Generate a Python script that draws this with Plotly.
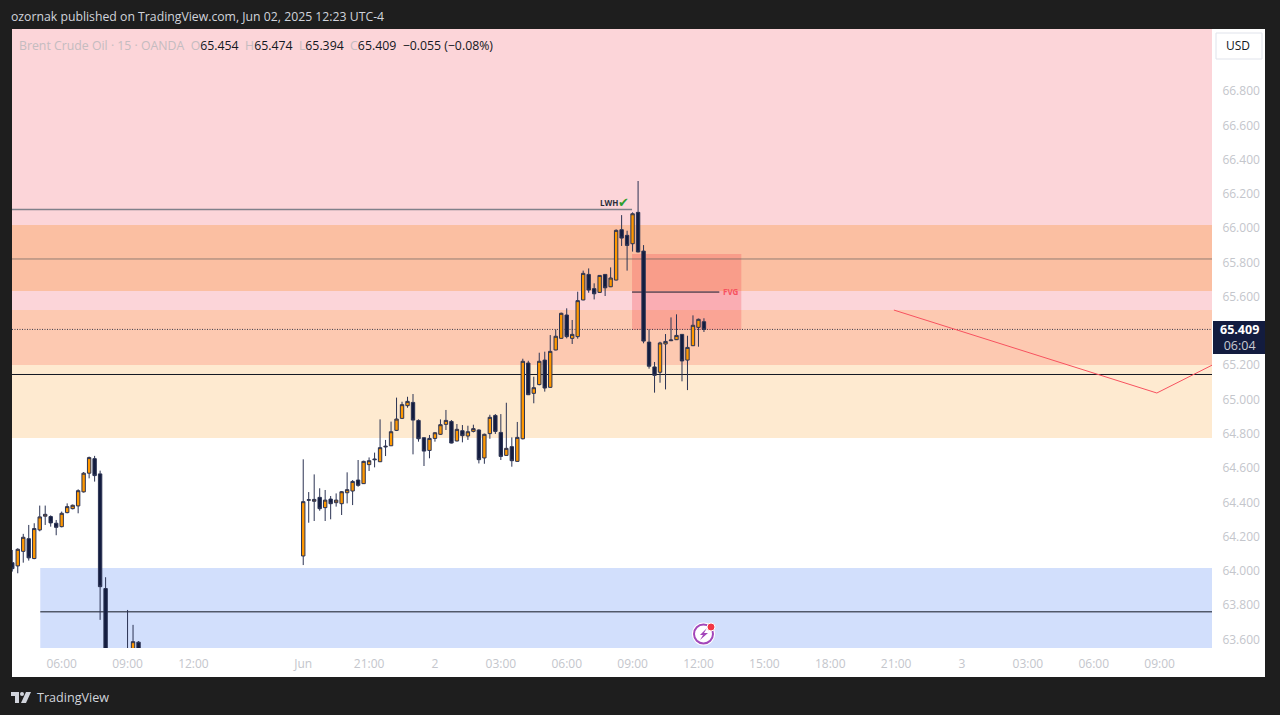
import plotly.graph_objects as go

# 15 min candles, index 0 is 06:00 on the first visible day
bar_index = list(range(-9, 9)) + list(range(12, 15)) + list(range(44, 118))

opens = [64.048, 64.029, 64.114, 64.188, 64.072, 64.239, 64.319, 64.317, 64.278, 64.258,
         64.340, 64.363, 64.379, 64.461, 64.570, 64.655, 64.566, 63.897,
         63.50, 63.53, 63.584,
         64.087, 64.412, 64.406, 64.429, 64.369, 64.419, 64.398, 64.392, 64.456, 64.466,
         64.530, 64.509, 64.620, 64.653, 64.637, 64.723, 64.730, 64.820, 64.890, 64.964,
         64.983, 64.878, 64.777, 64.703, 64.773, 64.797, 64.855, 64.872, 64.758, 64.818,
         64.787, 64.814, 64.822, 64.659, 64.801, 64.907, 64.808, 64.674, 64.725, 64.639,
         64.771, 65.213, 65.036, 65.087, 65.230, 65.071, 65.289, 65.357, 65.493, 65.357,
         65.367, 65.581, 65.730, 65.647, 65.625, 65.730, 65.658, 65.697, 65.991, 65.958,
         65.909, 66.092, 65.866, 65.335, 65.190, 65.159, 65.324, 65.343, 65.349, 65.380,
         65.230, 65.314, 65.421, 65.454]
highs = [64.122, 64.132, 64.216, 64.268, 64.278, 64.381, 64.381, 64.324, 64.297, 64.346,
         64.394, 64.387, 64.476, 64.577, 64.667, 64.671, 64.585, 63.963,
         63.772, 63.685, 63.590,
         64.651, 64.460, 64.563, 64.482, 64.472, 64.437, 64.452, 64.466, 64.575, 64.530,
         64.647, 64.643, 64.662, 64.690, 64.884, 64.764, 64.871, 65.011, 64.987, 65.016,
         65.032, 64.884, 64.779, 64.793, 64.810, 64.884, 64.939, 64.880, 64.857, 64.851,
         64.847, 64.853, 64.826, 64.801, 64.911, 64.915, 64.915, 64.981, 64.779, 64.869,
         65.238, 65.226, 65.133, 65.273, 65.279, 65.376, 65.409, 65.507, 65.532, 65.464,
         65.629, 65.752, 65.765, 65.678, 65.726, 65.732, 65.771, 65.993, 66.076, 65.985,
         66.092, 66.275, 65.901, 65.409, 65.219, 65.337, 65.382, 65.479, 65.497, 65.382,
         65.372, 65.491, 65.472, 65.474]
lows = [63.996, 63.986, 64.048, 64.060, 64.068, 64.231, 64.268, 64.258, 64.208, 64.254,
        64.336, 64.359, 64.336, 64.457, 64.540, 64.521, 63.714, 63.45,
        63.46, 63.52, 63.52,
        64.034, 64.281, 64.291, 64.351, 64.291, 64.301, 64.375, 64.326, 64.394, 64.384,
        64.491, 64.507, 64.583, 64.604, 64.635, 64.670, 64.729, 64.816, 64.886, 64.952,
        64.680, 64.754, 64.612, 64.657, 64.754, 64.793, 64.822, 64.744, 64.756, 64.750,
        64.764, 64.808, 64.627, 64.625, 64.771, 64.799, 64.647, 64.672, 64.608, 64.637,
        64.767, 65.026, 64.978, 65.083, 65.046, 65.069, 65.287, 65.355, 65.357, 65.324,
        65.355, 65.579, 65.623, 65.584, 65.623, 65.604, 65.656, 65.695, 65.896, 65.752,
        65.863, 65.859, 65.328, 65.180, 65.040, 65.098, 65.059, 65.341, 65.347, 65.106,
        65.055, 65.312, 65.308, 65.394]
closes = [64.013, 64.126, 64.196, 64.076, 64.247, 64.315, 64.330, 64.280, 64.254, 64.336,
          64.375, 64.383, 64.468, 64.570, 64.661, 64.556, 63.908, 63.50,
          63.48, 63.587, 63.53,
          64.404, 64.415, 64.417, 64.363, 64.413, 64.392, 64.413, 64.462, 64.474, 64.522,
          64.499, 64.639, 64.643, 64.649, 64.719, 64.727, 64.812, 64.886, 64.970, 64.989,
          64.880, 64.771, 64.699, 64.773, 64.806, 64.853, 64.878, 64.746, 64.826, 64.789,
          64.812, 64.830, 64.649, 64.797, 64.896, 64.814, 64.668, 64.715, 64.643, 64.779,
          65.223, 65.028, 65.069, 65.223, 65.067, 65.281, 65.369, 65.503, 65.367, 65.380,
          65.577, 65.736, 65.639, 65.617, 65.724, 65.652, 65.709, 65.987, 65.942, 65.899,
          66.084, 65.861, 65.341, 65.194, 65.141, 65.330, 65.339, 65.347, 65.374, 65.225,
          65.304, 65.433, 65.468, 65.409]

price_ticks = [63.6, 63.8, 64.0, 64.2, 64.4, 64.6, 64.8, 65.0, 65.2, 65.4,
               65.6, 65.8, 66.0, 66.2, 66.4, 66.6, 66.8]
time_ticks = [0, 12, 24, 44, 56, 68, 80, 92, 104, 116, 128, 140, 152, 164, 176, 188, 200]
time_labels = ["06:00", "09:00", "12:00", "Jun", "21:00", "2", "03:00", "06:00", "09:00",
               "12:00", "15:00", "18:00", "21:00", "3", "03:00", "06:00", "09:00"]

# supply / demand zones, price from-to and colour
zone_low = [64.776, 65.201, 65.633, 63.40]
zone_high = [67.30, 65.522, 66.018, 64.017]
zone_color = ["#fcd5d9", "#fdc9b1", "#fbbfa2", "#d2dffc"]

last_price = 65.409
lwh_price = 66.109
mid_price = 65.82
low_price = 65.146
lower_price = 63.761
fvg_low = 65.406
fvg_high = 65.849
fvg_mid = 65.627
path_x = [151.6, 199.5, 209.6]
path_y = [65.522, 65.038, 65.201]

xmin, xmax = -9.05, 209.55
ymin, ymax = 63.55, 67.162


def px(x):
    return (x - 12) / 1200


def py(y):
    return (648 - y) / 619


def pixel_path(points):
    # polygon given in page pixels -> svg path in paper coords
    parts = [f"{px(x):.5f} {py(y):.5f}" for x, y in points]
    return "M " + " L ".join(parts) + " Z"


fig = go.Figure()
fig.add_trace(go.Candlestick(
    x=bar_index, open=opens, high=highs, low=lows, close=closes,
    increasing=dict(fillcolor="#ff9800", line=dict(color="#2b3353", width=1)),
    decreasing=dict(fillcolor="#131c3f", line=dict(color="#2b3353", width=1)),
    hoverinfo="skip",
))

# white chart panel incl. both axes
fig.add_shape(type="rect", xref="paper", yref="paper", x0=px(12), x1=px(1265), y0=py(677), y1=py(29),
              fillcolor="white", line_width=0, layer="below")

# cream zone sits under the pink one
fig.add_shape(type="rect", x0=xmin, x1=xmax, y0=zone_low[0], y1=zone_high[0],
              fillcolor=zone_color[0], line_width=0, layer="below")
fig.add_shape(type="rect", x0=xmin, x1=xmax, y0=zone_low[0], y1=zone_low[1],
              fillcolor="#feead0", line_width=0, layer="below")
fig.add_shape(type="rect", x0=xmin, x1=xmax, y0=zone_low[1], y1=zone_high[1],
              fillcolor=zone_color[1], line_width=0, layer="below")
fig.add_shape(type="rect", x0=xmin, x1=xmax, y0=zone_low[2], y1=zone_high[2],
              fillcolor=zone_color[2], line_width=0, layer="below")
fig.add_shape(type="rect", x0=-3.9, x1=xmax, y0=zone_low[3], y1=zone_high[3],
              fillcolor=zone_color[3], line_width=0, layer="below")

# FVG box
fig.add_shape(type="rect", x0=103.9, x1=123.8, y0=fvg_low, y1=fvg_high,
              fillcolor="rgba(242,54,69,0.25)", line_width=0, layer="below")

fig.add_shape(type="line", x0=xmin, x1=103.9, y0=lwh_price, y1=lwh_price,
              line=dict(color="#80808a", width=1.5), layer="below")
fig.add_shape(type="line", x0=xmin, x1=xmax, y0=mid_price, y1=mid_price,
              line=dict(color="rgba(90,90,90,0.65)", width=1), layer="below")
fig.add_shape(type="line", x0=xmin, x1=xmax, y0=low_price, y1=low_price,
              line=dict(color="#131722", width=1), layer="below")
fig.add_shape(type="line", x0=-3.9, x1=xmax, y0=lower_price, y1=lower_price,
              line=dict(color="#131722", width=1), layer="below")
fig.add_shape(type="line", x0=103.9, x1=119.8, y0=fvg_mid, y1=fvg_mid,
              line=dict(color="#131722", width=1), layer="below")
fig.add_shape(type="line", x0=xmin, x1=xmax, y0=last_price, y1=last_price,
              line=dict(color="#3a3a4a", width=1, dash="1px,1.5px"), layer="below")

fig.add_trace(go.Scatter(x=path_x, y=path_y, mode="lines",
                         line=dict(color="#f7525f", width=1), hoverinfo="skip"))

# last price tag + usd box
fig.add_shape(type="rect", xref="paper", yref="paper", x0=px(1213), x1=px(1265), y0=py(354), y1=py(321),
              fillcolor="#131c3f", line_width=0)
fig.add_shape(type="rect", xref="paper", yref="paper", x0=px(1216), x1=px(1262), y0=py(59), y1=py(33),
              fillcolor="white", line=dict(color="#e0e3eb", width=1))

# alert icon
fig.add_shape(type="circle", xref="paper", yref="paper", x0=px(692), x1=px(715), y0=py(645.5), y1=py(622.5),
              fillcolor="white", line_width=0)
fig.add_shape(type="circle", xref="paper", yref="paper", x0=px(694), x1=px(713), y0=py(643.5), y1=py(624.5),
              fillcolor="white", line=dict(color="#a347ba", width=2))
fig.add_shape(type="path", xref="paper", yref="paper",
              path=pixel_path([(707, 628), (700, 635), (703, 635), (700, 640), (708, 633), (704, 633)]),
              fillcolor="#a347ba", line_width=0)
fig.add_shape(type="circle", xref="paper", yref="paper", x0=px(707), x1=px(715), y0=py(631), y1=py(623),
              fillcolor="#f23645", line=dict(color="white", width=1))

# logo
fig.add_shape(type="path", xref="paper", yref="paper",
              path=pixel_path([(11, 692), (19, 692), (19, 703), (15, 703), (15, 696), (11, 696)]),
              fillcolor="#d1d4dc", line_width=0)
fig.add_shape(type="path", xref="paper", yref="paper",
              path=pixel_path([(26, 692), (31, 692), (26, 703), (21, 703)]),
              fillcolor="#d1d4dc", line_width=0)
fig.add_shape(type="circle", xref="paper", yref="paper", x0=px(20), x1=px(24), y0=py(696), y1=py(692),
              fillcolor="#d1d4dc", line_width=0)


def label(x, y, text, color, size, anchor="left", font="Open Sans"):
    fig.add_annotation(xref="paper", yref="paper", x=px(x), y=py(y), text=text, showarrow=False,
                       xanchor=anchor, yanchor="middle", font=dict(color=color, size=size, family=font))


label(9, 16, "ozornak published on TradingView.com, Jun 02, 2025 12:23 UTC-4", "#d1d4dc", 12.25)
grey = "#c4bcc0"
dark = "#131722"
legend = f"<span style='color:{grey}'>Brent Crude Oil · 15 · OANDA&nbsp;&nbsp;O</span>65.454" \
         f"<span style='color:{grey}'>&nbsp;&nbsp;H</span>65.474" \
         f"<span style='color:{grey}'>&nbsp;&nbsp;L</span>65.394" \
         f"<span style='color:{grey}'>&nbsp;&nbsp;C</span>65.409&nbsp;&nbsp;−0.055 (−0.08%)"
label(17, 45, legend, dark, 12.3)
label(598, 202, "<b>LWH</b>", "#2a2e39", 8)
label(616, 202, "<b>✔</b>", "#2e9e2e", 13, font="DejaVu Sans")
label(721, 291.5, "<b>FVG</b>", "#f7525f", 8)
label(1238, 46, "USD", "#131722", 12, anchor="center")
label(1239, 337, "<b>65.409</b><br><span style='color:#c8cad2'>06:04</span>", "white", 12.5, anchor="center")
label(35, 697, "TradingView", "#d1d4dc", 12.6)

fig.update_layout(
    width=1280, height=715,
    margin=dict(l=12, r=68, t=29, b=67, autoexpand=False),
    paper_bgcolor="#1e1e1e", plot_bgcolor="white",
    showlegend=False,
    boxgap=0.12,
    xaxis=dict(range=[xmin, xmax], rangeslider=dict(visible=False), showgrid=False, zeroline=False,
               tickmode="array", tickvals=time_ticks, ticktext=time_labels,
               ticks="outside", ticklen=5, tickcolor="rgba(0,0,0,0)",
               tickfont=dict(family="Open Sans", size=12, color="#c4c6cc")),
    yaxis=dict(range=[ymin, ymax], side="right", showgrid=False, zeroline=False,
               tickmode="array", tickvals=price_ticks, tickformat=".3f",
               ticks="outside", ticklen=7, tickcolor="rgba(0,0,0,0)",
               tickfont=dict(family="Open Sans", size=12, color="#c4c6cc")),
)

fig.write_html("out.html", config=dict(displayModeBar=False),
               post_script="document.body.style.margin='0';document.body.style.overflow='hidden';")
